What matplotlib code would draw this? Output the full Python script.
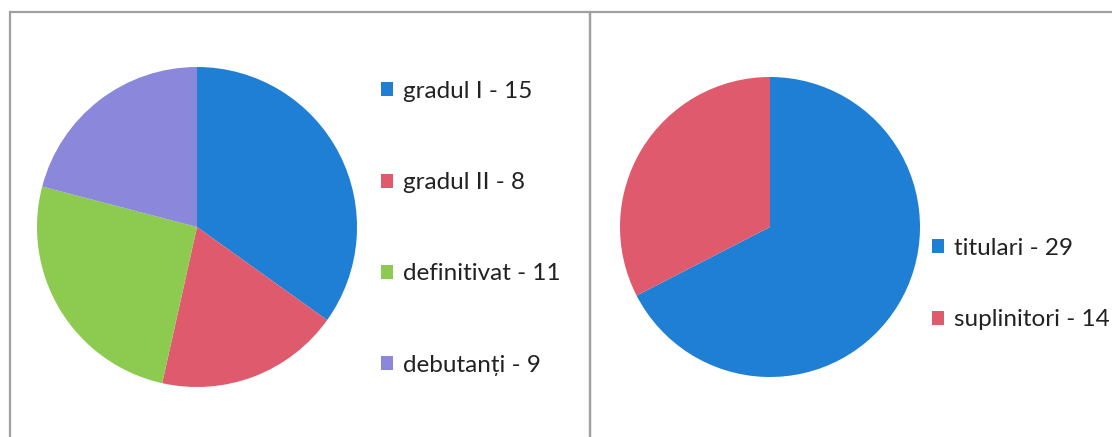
import matplotlib.pyplot as plt
from matplotlib.patches import Rectangle, Patch

# left pie: teacher grades
grade_labels = ['gradul I', 'gradul II', 'definitivat', 'debutanți']
grade_values = [15, 8, 11, 9]
grade_colors = ['#1f7fd4', '#de5a6c', '#8dca50', '#8b87da']

# right pie: status
status_labels = ['titulari', 'suplinitori']
status_values = [29, 14]
status_colors = ['#1f7fd4', '#de5a6c']

plt.rcParams['font.family'] = ['Lato', 'DejaVu Sans']

fig = plt.figure(figsize=(11.12, 4.37), dpi=100)
fig.patch.set_facecolor('white')

W, H = 1112.0, 437.0

# panel borders
for x0, x1 in [(10, 590), (590, 1125)]:
    fig.add_artist(Rectangle((x0 / W, -0.1), (x1 - x0) / W, (437 - 12) / H + 0.1,
                             transform=fig.transFigure, fill=False,
                             edgecolor='#a0a0a0', linewidth=1.6))


def draw_pie(rect, values, colors, labels, legend_pos, spacing):
    ax = fig.add_axes(rect)
    wedges, _ = ax.pie(values, colors=colors, startangle=90, counterclock=False,
                       radius=1, wedgeprops=dict(linewidth=0))
    ax.set_xlim(-1, 1)
    ax.set_ylim(-1, 1)
    ax.set_aspect('equal')
    handles = [Patch(facecolor=c, edgecolor='none') for c in colors]
    texts = ['%s - %d' % (l, v) for l, v in zip(labels, values)]
    fig.legend(handles, texts, loc='upper left', bbox_to_anchor=legend_pos,
               bbox_transform=fig.transFigure, frameon=False, fontsize=17.5,
               handlelength=0.5, handleheight=0.5, handletextpad=0.4,
               labelspacing=spacing, labelcolor='#222222', borderpad=0, borderaxespad=0)
    return ax


draw_pie([37 / W, 50 / H, 320 / W, 320 / H], grade_values, grade_colors,
         grade_labels, (381 / W, 1 - 81 / H), 2.89)
draw_pie([620 / W, 60 / H, 300 / W, 300 / H], status_values, status_colors,
         status_labels, (932 / W, 1 - 238 / H), 2.07)

fig.savefig('out.png', dpi=100, facecolor='white')
